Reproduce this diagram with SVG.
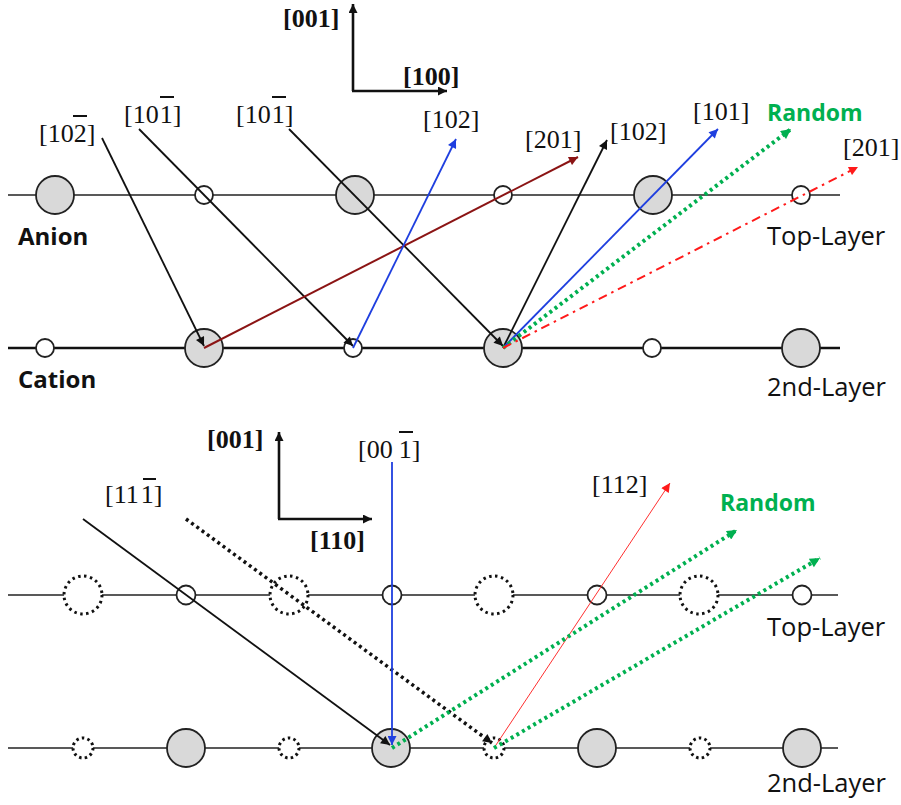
<svg xmlns="http://www.w3.org/2000/svg" width="901" height="805" viewBox="0 0 901 805">
<style>
.lbl{font-family:"Liberation Serif","Times New Roman",serif;font-size:26px;fill:#111}
.bl{font-family:"Liberation Serif","Times New Roman",serif;font-size:26px;font-weight:bold;fill:#111}
.sans{font-family:"Open Sans","Noto Sans",sans-serif;font-size:25.5px;fill:#111}
.sansb{font-family:"Open Sans","Noto Sans",sans-serif;font-size:24px;font-weight:bold;fill:#111}
.rnd{font-family:"Open Sans","Noto Sans",sans-serif;font-size:23px;font-weight:bold;fill:#00b050}
.bar{stroke:#111;stroke-width:2}
.layer{stroke:#222;stroke-width:1.6;fill:none}
.layer2{stroke:#111;stroke-width:2.6;fill:none}
.big{fill:#d9d9d9;stroke:#222;stroke-width:1.8}
.small{fill:#fff;stroke:#222;stroke-width:1.8}
.dot{fill:#fff;stroke:#111;stroke-width:3;stroke-dasharray:2.5 3.5}
.dots{fill:#fff;stroke:#111;stroke-width:3;stroke-dasharray:2.5 3.2}
.k{stroke:#111;stroke-width:1.8;fill:none}
.axis{stroke:#111;stroke-width:2.6;fill:none}
.blue{stroke:#1f3fdf;stroke-width:1.8;fill:none}
.dred{stroke:#8b1414;stroke-width:2;fill:none}
.grn{stroke:#00b050;stroke-width:4;stroke-dasharray:3 3.5;fill:none}
.red{stroke:#ff1a1a;stroke-width:2;stroke-dasharray:9 5 2.5 5;fill:none}
.redt{stroke:#ff3030;stroke-width:1;fill:none}
.bdl{stroke:#111;stroke-width:3.5;stroke-dasharray:3 3.5;fill:none}
</style>
<defs>
<marker id="ak" viewBox="0 0 10 10" refX="10" refY="5" markerWidth="11" markerHeight="9" markerUnits="userSpaceOnUse" orient="auto"><path d="M0,0 L10,5 L0,10 z" fill="#111"/></marker>
<marker id="ab" viewBox="0 0 10 10" refX="10" refY="5" markerWidth="11" markerHeight="9" markerUnits="userSpaceOnUse" orient="auto"><path d="M0,0 L10,5 L0,10 z" fill="#1f3fdf"/></marker>
<marker id="ad" viewBox="0 0 10 10" refX="10" refY="5" markerWidth="11" markerHeight="9" markerUnits="userSpaceOnUse" orient="auto"><path d="M0,0 L10,5 L0,10 z" fill="#8b1414"/></marker>
<marker id="ag" viewBox="0 0 10 10" refX="10" refY="5" markerWidth="12" markerHeight="10" markerUnits="userSpaceOnUse" orient="auto"><path d="M0,0 L10,5 L0,10 z" fill="#00b050"/></marker>
<marker id="ar" viewBox="0 0 10 10" refX="10" refY="5" markerWidth="11" markerHeight="9" markerUnits="userSpaceOnUse" orient="auto"><path d="M0,0 L10,5 L0,10 z" fill="#ff1a1a"/></marker>
</defs>

<!-- ===== TOP DIAGRAM ===== -->
<g id="top-layers">
<line class="layer" x1="8" y1="195" x2="840" y2="195"/>
<line class="layer2" x1="8" y1="348" x2="840" y2="348"/>
</g>
<g id="top-anions">
<circle class="big" cx="55" cy="195" r="19"/>
<circle class="small" cx="204" cy="195" r="9"/>
<circle class="big" cx="355" cy="195" r="19"/>
<circle class="small" cx="503" cy="195" r="9"/>
<circle class="big" cx="653" cy="195" r="19"/>
<circle class="small" cx="801" cy="195" r="9"/>
</g>
<g id="top-cations">
<circle class="small" cx="45" cy="348" r="9"/>
<circle class="big" cx="204" cy="348" r="19"/>
<circle class="small" cx="353" cy="348" r="9"/>
<circle class="big" cx="503" cy="348" r="19"/>
<circle class="small" cx="652" cy="348" r="9"/>
<circle class="big" cx="801" cy="348" r="19"/>
</g>

<g id="top-axes">
<line class="axis" x1="353" y1="91" x2="353" y2="4" marker-end="url(#ak)"/>
<line class="axis" x1="352" y1="91" x2="447" y2="91" marker-end="url(#ak)"/>
<text class="bl" x="283" y="27">[001]</text>
<text class="bl" x="403" y="85">[100]</text>
</g>

<g id="top-connectors">
<line class="k" x1="102" y1="138" x2="204" y2="346" marker-end="url(#ak)"/>
<line class="k" x1="139" y1="129" x2="353" y2="346" marker-end="url(#ak)"/>
<line class="k" x1="289" y1="129" x2="503" y2="346" marker-end="url(#ak)"/>
<line class="dred" x1="204" y1="348" x2="578" y2="157" marker-end="url(#ad)"/>
<line class="blue" x1="353" y1="348" x2="456" y2="139" marker-end="url(#ab)"/>
<line class="k" x1="503" y1="348" x2="607" y2="140" marker-end="url(#ak)"/>
<line class="blue" x1="503" y1="348" x2="718" y2="129" marker-end="url(#ab)"/>
<line class="grn" x1="503" y1="348" x2="791" y2="129" marker-end="url(#ag)"/>
<line class="red" x1="503" y1="348" x2="858" y2="167" marker-end="url(#ar)"/>
</g>

<g id="top-labels">
<text class="lbl" x="39" y="142">[102]</text>
<line class="bar" x1="73" y1="116" x2="87" y2="116"/>
<text class="lbl" x="124" y="123">[10<tspan dx="1">1]</tspan></text>
<line class="bar" x1="160" y1="97" x2="174" y2="97"/>
<text class="lbl" x="236" y="123">[10<tspan dx="1">1]</tspan></text>
<line class="bar" x1="272" y1="97" x2="286" y2="97"/>
<text class="lbl" x="423" y="128">[102]</text>
<text class="lbl" x="525" y="148">[201]</text>
<text class="lbl" x="610" y="140">[102]</text>
<text class="lbl" x="693" y="120" font-size="24">[101]</text>
<text class="rnd" x="767" y="121">Random</text>
<text class="lbl" x="843" y="156">[201]</text>
<text class="sansb" x="18" y="245">Anion</text>
<text class="sansb" x="18" y="388">Cation</text>
<text class="sans" x="767" y="245">Top-Layer</text>
<text class="sans" x="767" y="396">2nd-Layer</text>
</g>

<!-- ===== BOTTOM DIAGRAM ===== -->
<g id="bot-layers">
<line class="layer" x1="8" y1="595" x2="838" y2="595"/>
<line class="layer" x1="8" y1="748" x2="838" y2="748"/>
</g>
<g id="bot-top-sites">
<circle class="dot" cx="83" cy="595" r="19"/>
<circle class="small" cx="186" cy="595" r="9.5"/>
<circle class="dot" cx="289" cy="595" r="19"/>
<circle class="small" cx="392" cy="595" r="9.5"/>
<circle class="dot" cx="494" cy="595" r="19"/>
<circle class="small" cx="597" cy="595" r="9.5"/>
<circle class="dot" cx="699" cy="595" r="19"/>
<circle class="small" cx="802" cy="595" r="9.5"/>
</g>
<g id="bot-2nd-sites">
<circle class="dots" cx="83" cy="748" r="10"/>
<circle class="big" cx="186" cy="748" r="19"/>
<circle class="dots" cx="289" cy="748" r="10"/>
<circle class="big" cx="391" cy="748" r="19"/>
<circle class="dots" cx="494" cy="748" r="10"/>
<circle class="big" cx="597" cy="748" r="19"/>
<circle class="dots" cx="700" cy="748" r="10"/>
<circle class="big" cx="802" cy="748" r="19"/>
</g>

<g id="bot-axes">
<line class="axis" x1="279" y1="519" x2="279" y2="432" marker-end="url(#ak)"/>
<line class="axis" x1="278" y1="519" x2="372" y2="519" marker-end="url(#ak)"/>
<text class="bl" x="207" y="448">[001]</text>
<text class="bl" x="310" y="549">[110]</text>
</g>

<g id="bot-connectors">
<line class="k" x1="83" y1="519" x2="390" y2="745" marker-end="url(#ak)"/>
<line class="bdl" x1="186" y1="519" x2="492" y2="743" marker-end="url(#ak)"/>
<line class="blue" x1="392" y1="462" x2="392" y2="745" stroke-width="1.5" marker-end="url(#ab)"/>
<line class="redt" x1="494" y1="748" x2="670" y2="483" marker-end="url(#ar)"/>
<line class="grn" x1="392" y1="748" x2="737" y2="530" marker-end="url(#ag)"/>
<line class="grn" x1="494" y1="748" x2="820" y2="558" marker-end="url(#ag)"/>
</g>

<g id="bot-labels">
<text class="lbl" x="105" y="503">[11<tspan dx="3">1]</tspan></text>
<line class="bar" x1="143" y1="479" x2="156" y2="479"/>
<text class="lbl" x="358" y="458">[00<tspan dx="6">1]</tspan></text>
<line class="bar" x1="399" y1="432" x2="413" y2="432"/>
<text class="lbl" x="592" y="493">[112]</text>
<text class="rnd" x="720" y="511">Random</text>
<text class="sans" x="767" y="636">Top-Layer</text>
<text class="sans" x="767" y="792">2nd-Layer</text>
</g>
</svg>
